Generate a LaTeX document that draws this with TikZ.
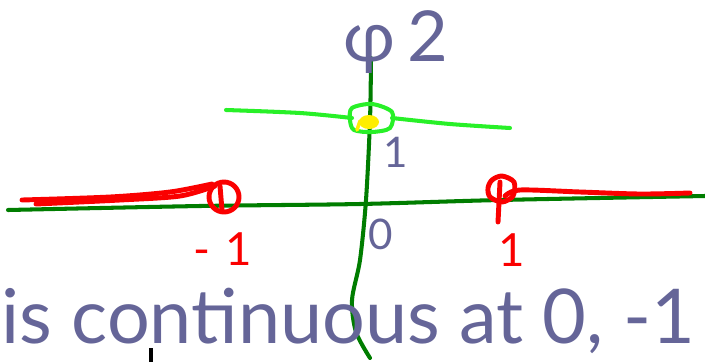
\documentclass[tikz,border=0pt]{standalone}
\usepackage{fontspec}
\setmainfont{Lato}
\usepackage{xcolor}
\usetikzlibrary{positioning}

\definecolor{axisgreen}{RGB}{0,125,0}
\definecolor{limegreen}{RGB}{40,240,40}
\definecolor{slate}{RGB}{101,101,152}
\definecolor{penred}{RGB}{250,0,0}
\definecolor{penyellow}{RGB}{255,238,0}

\begin{document}
\begin{tikzpicture}[
    x=0.02cm, y=-0.02cm,
    axis/.style={draw=axisgreen, line width=2.3pt, line cap=round, line join=round},
    level/.style={draw=limegreen, line width=2.3pt, line cap=round, line join=round},
    redpen/.style={draw=penred, line width=2.8pt, line cap=round, line join=round},
    hand/.style={text=slate, inner sep=0pt},
    redlbl/.style={text=penred, inner sep=0pt, font=\fontsize{26}{30}\selectfont}
]
\useasboundingbox (0,0) rectangle (705,362);

% axes
\draw[axis] plot[smooth] coordinates {(8,210) (200,206) (360,204) (500,200) (705,196)};
\draw[axis] plot[smooth] coordinates {(371,58) (370,120) (366,200) (360,260) (352,300) (356,332) (370,358)};

% phi 2 level
\draw[level] plot[smooth] coordinates {(226,110) (300,113) (352,118)};
\draw[level] plot[smooth] coordinates {(392,118) (450,124) (510,128)};
\draw[level] plot[smooth cycle] coordinates {(352,108) (372,104) (392,112) (390,128) (372,132) (354,130) (350,120)};
\fill[penyellow] (369,122) ellipse (10 and 7);
\draw[penyellow, line width=2pt, line cap=round] (360,121) -- (357,130);

% red branches
\draw[redpen] plot[smooth] coordinates {(36,204) (120,200) (180,196) (215,186)};
\draw[redpen] plot[smooth] coordinates {(22,200) (110,197) (170,192) (212,184)};
\draw[redpen] (224,197) circle (15);
\draw[redpen] (220,186) -- (222,210);
\draw[redpen] plot[smooth cycle] coordinates {(492,180) (502,176) (514,182) (513,196) (502,202) (490,197) (488,188)};
\draw[redpen] (500,182) -- (498,222);
\draw[redpen] plot[smooth] coordinates {(505,196) (520,190) (580,192) (640,194) (690,193)};

% labels
\node[hand, font=\fontsize{40}{44}\selectfont] (phi) at (396,42) {φ\,2};
\node[hand, font=\fontsize{24}{28}\selectfont] (one) at (396,152) {1};
\node[hand, font=\fontsize{24}{28}\selectfont] (zero) at (381,234) {0};
\node[redlbl] (mone) at (223,249) {-\,\,1};
\node[redlbl] (pone) at (512,250) {1};

% remark
\node[hand, anchor=base west, font=\fontsize{43}{48}\selectfont] (remark) at (1,343) {is continuous at 0, -1};
\draw[black, line width=2pt] (151,348) -- (151,362);
\end{tikzpicture}
\end{document}
